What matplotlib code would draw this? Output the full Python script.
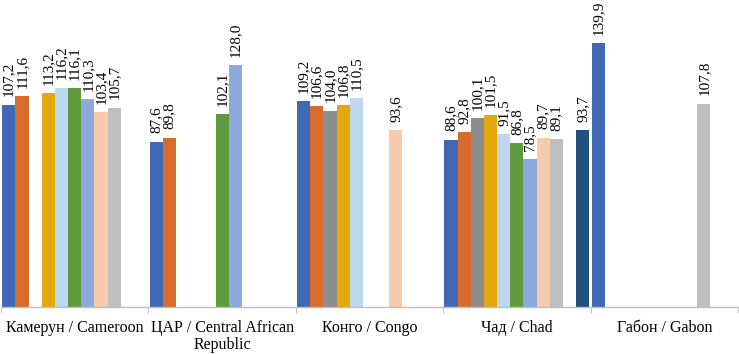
import numpy as np
import matplotlib.pyplot as plt

nan = np.nan

# Categories (countries)
categories = ['Камерун / Cameroon', 'ЦАР / Central African\nRepublic',
              'Конго / Congo', 'Чад / Chad', 'Габон / Gabon']

# Series values, one list per series (same order as categories)
s_blue = [107.2, 87.6, 109.2, 88.6, 139.9]
s_orange = [111.6, 89.8, 106.6, 92.8, nan]
s_gray = [nan, nan, 104.0, 100.1, nan]
s_yellow = [113.2, nan, 106.8, 101.5, nan]
s_lightblue = [116.2, nan, 110.5, 91.5, nan]
s_green = [116.1, 102.1, nan, 86.8, nan]
s_periwinkle = [110.3, 128.0, nan, 78.5, nan]
s_peach = [103.4, nan, 93.6, 89.7, nan]
s_lightgray = [105.7, nan, nan, 89.1, 107.8]
s_empty = [nan, nan, nan, nan, nan]
s_darkblue = [nan, nan, nan, 93.7, nan]

series = [s_blue, s_orange, s_gray, s_yellow, s_lightblue, s_green,
          s_periwinkle, s_peach, s_lightgray, s_empty, s_darkblue]
colors = ['#4168B2', '#D76C2C', '#8E8E8E', '#E3A90A', '#BDD7EE', '#5F9B3E',
          '#8EA9DB', '#F8CBAD', '#BFBFBF', '#FFFFFF', '#22507F']

plt.rcParams['font.family'] = ['Liberation Serif', 'DejaVu Serif']

fig = plt.figure(figsize=(7.39, 3.54), dpi=100)
ax = fig.add_axes([1 / 739, 47 / 354, 737 / 739, 307 / 354])

x = np.arange(len(categories))
n = len(series)
w = 0.985 / n

for j, (vals, col) in enumerate(zip(series, colors)):
    pos = x + (j - (n - 1) / 2) * w
    vals = np.array(vals, dtype=float)
    ax.bar(pos, vals, width=w, color=col, linewidth=0)
    for p, v in zip(pos, vals):
        if np.isnan(v):
            continue
        ax.annotate(f'{v:.1f}'.replace('.', ','), (p, v), xytext=(0, 6),
                    textcoords='offset points', rotation=90,
                    ha='center', va='bottom', fontsize=11, color='#000000')

ax.set_xlim(-0.5, len(categories) - 0.5)
ax.set_ylim(0, 162.7)

for side in ['left', 'right', 'top']:
    ax.spines[side].set_visible(False)
ax.spines['bottom'].set_color('#BFBFBF')
ax.spines['bottom'].set_linewidth(1)
ax.set_yticks([])

ax.set_xticks(x)
ax.set_xticklabels(categories, fontsize=11.5, linespacing=1.12)
ax.tick_params(axis='x', which='major', length=0, pad=9)
ax.set_xticks(np.arange(-0.5, len(categories)), minor=True)
ax.tick_params(axis='x', which='minor', length=4, color='#BFBFBF')

fig.savefig('out.png', dpi=100)
